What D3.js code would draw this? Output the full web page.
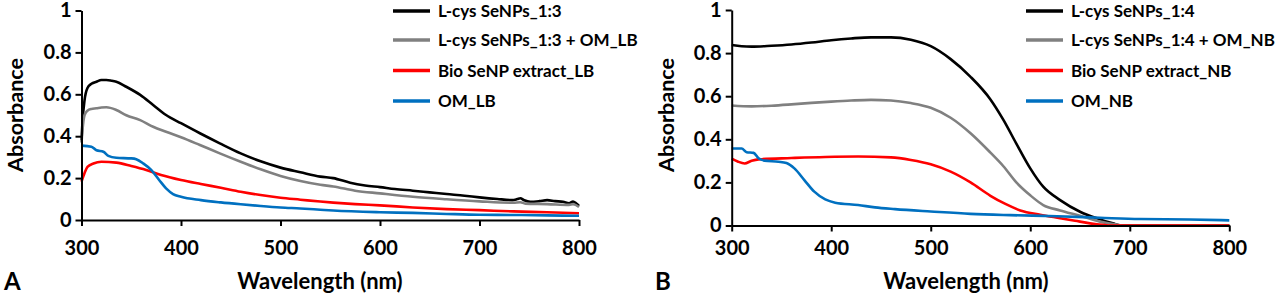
<!DOCTYPE html>
<html>
<head>
<meta charset="utf-8">
<script src="https://cdn.jsdelivr.net/npm/d3@7"></script>
<style>
  body { margin: 0; background: #fff; }
  svg { display: block; font-family: Lato, "Open Sans", sans-serif; font-weight: bold; }
</style>
</head>
<body>
<svg id="chart" width="1280" height="295"></svg>
<script>
// tick values shared by both panels
const xTicks = [300, 400, 500, 600, 700, 800];
const yTicks = [0, 0.2, 0.4, 0.6, 0.8, 1];

// panel A series, [wavelength nm, absorbance]
const aLcys = [[300,0.38],[301,0.47],[303,0.57],[306,0.63],[310,0.65],[315,0.66],[320,0.668],[325,0.668],[330,0.665],[335,0.66],[345,0.636],[359,0.597],[372,0.549],[385,0.501],[400,0.462],[419,0.414],[439,0.366],[460,0.318],[480,0.28],[500,0.25],[520,0.228],[540,0.207],[553,0.2],[570,0.178],[585,0.165],[600,0.157],[615,0.148],[633,0.14],[650,0.132],[667,0.124],[685,0.116],[700,0.108],[718,0.1],[733,0.095],[738,0.1],[741,0.104],[745,0.094],[751,0.087],[760,0.09],[768,0.095],[776,0.09],[784,0.087],[790,0.08],[794,0.088],[797,0.08],[800,0.067]];
const aLcysOm = [[300,0.37],[301,0.43],[303,0.5],[306,0.522],[310,0.53],[315,0.533],[320,0.537],[325,0.538],[335,0.525],[345,0.5],[359,0.477],[372,0.445],[385,0.421],[400,0.395],[419,0.358],[439,0.318],[460,0.278],[480,0.242],[500,0.21],[520,0.186],[540,0.168],[553,0.16],[575,0.14],[600,0.127],[633,0.111],[667,0.099],[700,0.089],[734,0.082],[741,0.085],[746,0.078],[768,0.076],[790,0.072],[794,0.075],[800,0.062]];
const aBio = [[300,0.183],[303,0.223],[306,0.254],[312,0.27],[320,0.278],[335,0.274],[350,0.258],[365,0.239],[380,0.215],[400,0.191],[420,0.172],[440,0.154],[460,0.135],[480,0.119],[500,0.106],[520,0.097],[540,0.088],[553,0.083],[575,0.076],[600,0.07],[633,0.06],[667,0.052],[700,0.047],[734,0.041],[768,0.037],[800,0.032]];
const aOm = [[300,0.355],[310,0.35],[315,0.333],[322,0.326],[327,0.306],[335,0.297],[350,0.294],[355,0.29],[362,0.27],[370,0.239],[378,0.191],[385,0.151],[392,0.124],[400,0.111],[420,0.095],[440,0.084],[460,0.075],[480,0.067],[500,0.06],[520,0.055],[540,0.049],[553,0.045],[600,0.037],[633,0.034],[667,0.029],[700,0.025],[734,0.024],[768,0.022],[800,0.02]];

// panel B series
const bLcys = [[300,0.838],[310,0.832],[320,0.83],[340,0.834],[360,0.84],[380,0.849],[400,0.86],[420,0.868],[440,0.873],[460,0.873],[480,0.862],[500,0.832],[520,0.772],[540,0.69],[560,0.585],[573,0.49],[586,0.38],[600,0.265],[613,0.18],[630,0.118],[650,0.064],[667,0.033],[683,0.01],[692,0],[800,0]];
const bLcysOm = [[300,0.557],[320,0.553],[340,0.556],[360,0.562],[380,0.569],[400,0.575],[420,0.58],[440,0.583],[460,0.58],[480,0.568],[500,0.546],[520,0.5],[540,0.428],[560,0.338],[573,0.275],[586,0.2],[600,0.14],[613,0.095],[630,0.07],[650,0.045],[670,0.018],[687,0.004],[695,0],[800,0]];
const bBio = [[300,0.31],[306,0.297],[313,0.288],[320,0.3],[327,0.307],[360,0.313],[394,0.318],[427,0.32],[460,0.316],[480,0.304],[500,0.284],[520,0.25],[540,0.2],[560,0.138],[575,0.1],[590,0.07],[610,0.05],[630,0.034],[645,0.022],[660,0.01],[675,0.002],[680,0],[800,0]];
const bOm = [[300,0.357],[310,0.357],[315,0.34],[322,0.337],[327,0.312],[333,0.301],[347,0.296],[355,0.29],[363,0.265],[373,0.211],[383,0.157],[394,0.121],[404,0.106],[427,0.095],[444,0.084],[464,0.076],[500,0.065],[540,0.054],[580,0.048],[627,0.043],[670,0.036],[710,0.03],[760,0.028],[800,0.024]];

const seriesColors = ["#000000", "#808080", "#ff0000", "#0070c0"];
const namesA = ["L-cys SeNPs_1:3", "L-cys SeNPs_1:3 + OM_LB", "Bio SeNP extract_LB", "OM_LB"];
const namesB = ["L-cys SeNPs_1:4", "L-cys SeNPs_1:4 + OM_NB", "Bio SeNP extract_NB", "OM_NB"];

const svg = d3.select("#chart");

function drawPanel(p) {
  const x = d3.scaleLinear().domain([300, 800]).range([p.x0, p.x1]);
  const y = d3.scaleLinear().domain([0, 1]).range([p.y0, p.y1]);
  const g = svg.append("g");

  const line = d3.line()
    .x((d) => x(d[0]))
    .y((d) => y(Math.max(0, d[1])))
    .curve(d3.curveMonotoneX);

  p.series.forEach((s, i) => {
    g.append("path")
      .datum(s)
      .attr("fill", "none")
      .attr("stroke", seriesColors[i])
      .attr("stroke-width", 2.6)
      .attr("stroke-linejoin", "round")
      .attr("d", line);
  });

  const xAxis = g.append("g")
    .attr("transform", `translate(0,${p.y0})`)
    .call(d3.axisBottom(x).tickValues(xTicks).tickSize(6).tickSizeOuter(0));
  xAxis.selectAll("text").attr("y", 241 - p.y0).attr("font-size", 20);

  const yAxis = g.append("g")
    .attr("transform", `translate(${p.x0},0)`)
    .call(
      d3.axisLeft(y)
        .tickValues(yTicks)
        .tickFormat((d) => String(+d.toFixed(1)))
        .tickSize(6)
        .tickPadding(4)
        .tickSizeOuter(0)
    );
  yAxis.selectAll("text").attr("font-size", 20);

  [xAxis, yAxis].forEach((a) => {
    a.attr("font-family", null).attr("font-size", null);
    a.select(".domain").attr("stroke", "#000").attr("stroke-width", 2);
    a.selectAll(".tick line").attr("stroke", "#000").attr("stroke-width", 2);
    a.selectAll("text").attr("fill", "#000");
  });

  g.append("text")
    .attr("x", p.titleX)
    .attr("y", 289)
    .attr("text-anchor", "middle")
    .attr("font-size", 22)
    .text("Wavelength (nm)");

  g.append("text")
    .attr("transform", `translate(${p.absX},115) rotate(-90)`)
    .attr("text-anchor", "middle")
    .attr("font-size", 21.5)
    .text("Absorbance");

  g.append("text")
    .attr("x", p.letterX)
    .attr("y", 290)
    .attr("font-size", 24)
    .text(p.letter);

  const legend = g.append("g");
  p.names.forEach((n, i) => {
    const ly = p.legendY[i];
    legend.append("line")
      .attr("x1", p.legendX)
      .attr("x2", p.legendX + 37)
      .attr("y1", ly)
      .attr("y2", ly)
      .attr("stroke", seriesColors[i])
      .attr("stroke-width", 3.5);
    legend.append("text")
      .attr("x", p.legendX + 45)
      .attr("y", ly)
      .attr("dy", "0.36em")
      .attr("font-size", 17)
      .text(n);
  });
}

drawPanel({
  x0: 81.5, x1: 579, y0: 220, y1: 10.5,
  series: [aLcys, aLcysOm, aBio, aOm],
  names: namesA,
  legendX: 393, legendY: [11, 40, 70.5, 101],
  titleX: 320, absX: 23, letterX: 4, letter: "A"
});

drawPanel({
  x0: 731.7, x1: 1229.3, y0: 225.5, y1: 10,
  series: [bLcys, bLcysOm, bBio, bOm],
  names: namesB,
  legendX: 1026, legendY: [11, 40, 70.5, 101],
  titleX: 966, absX: 674, letterX: 655, letter: "B"
});
</script>
</body>
</html>
